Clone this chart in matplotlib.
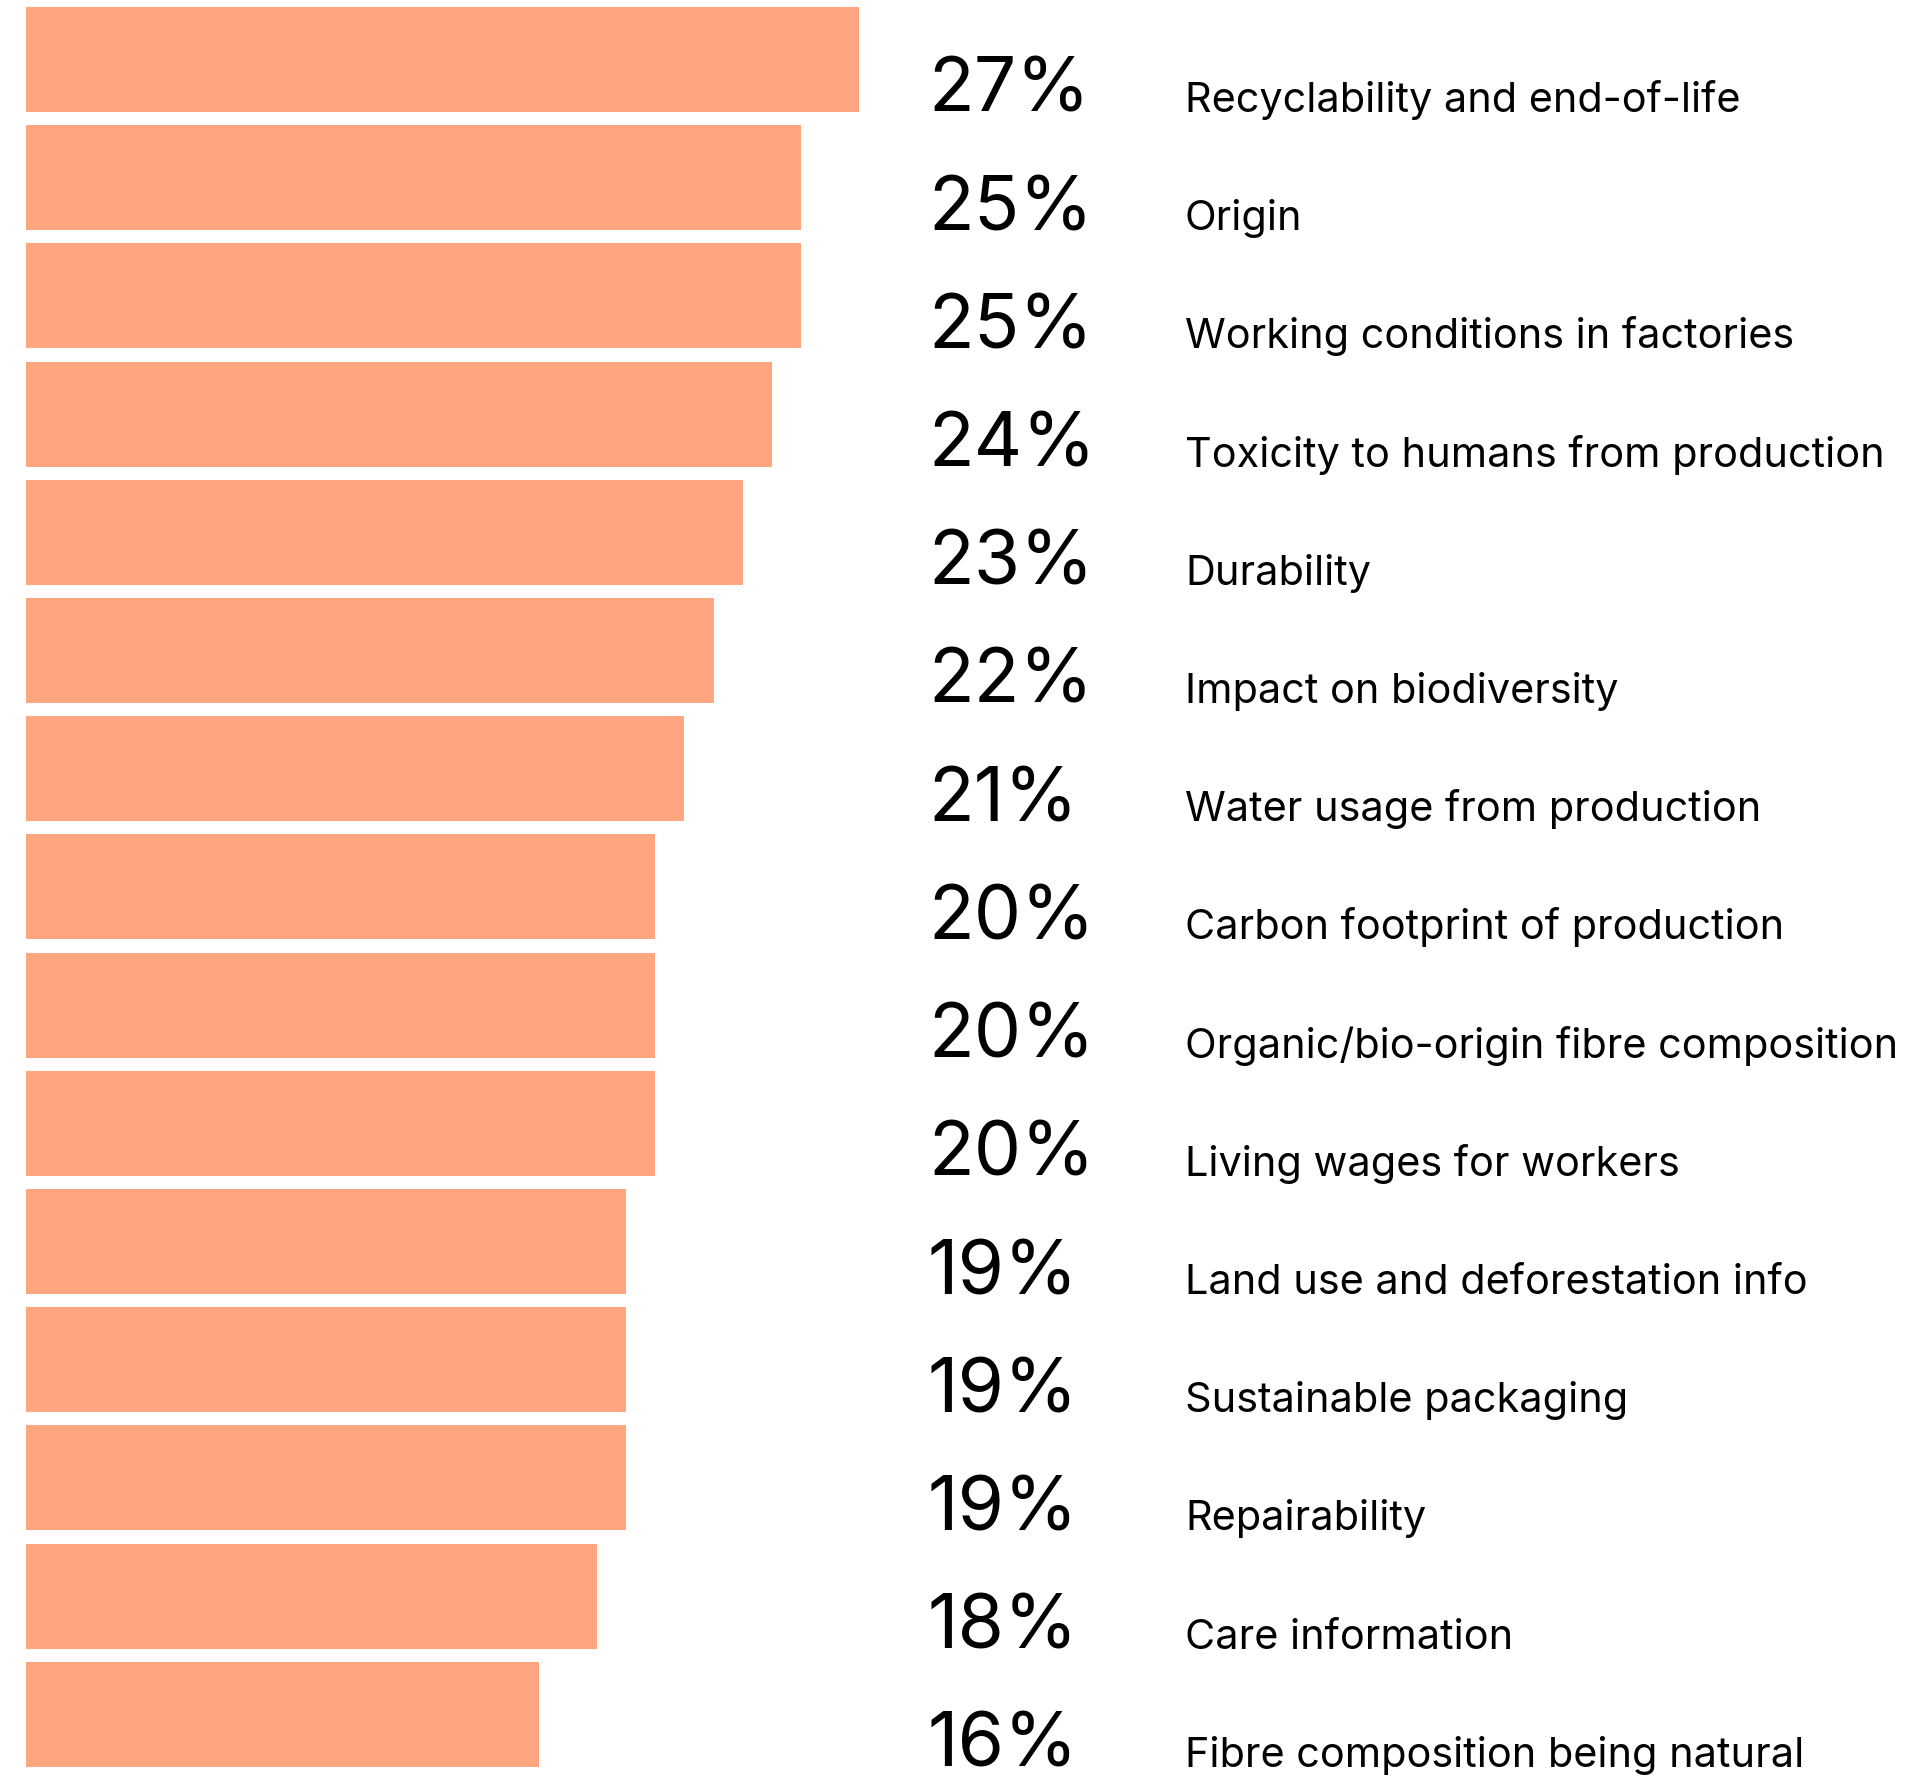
import matplotlib.pyplot as plt
import numpy as np

plt.rcParams['font.family'] = ['Inter', 'DejaVu Sans']

# share of respondents per attribute
attributes = ['Recyclability and end-of-life', 'Origin', 'Working conditions in factories',
              'Toxicity to humans from production', 'Durability', 'Impact on biodiversity',
              'Water usage from production', 'Carbon footprint of production',
              'Organic/bio-origin fibre composition', 'Living wages for workers',
              'Land use and deforestation info', 'Sustainable packaging', 'Repairability',
              'Care information', 'Fibre composition being natural']
shares = [27, 25, 25, 24, 23, 22, 21, 20, 20, 20, 19, 19, 19, 18, 16]

bar_color = '#FFA580'
base = -1.63  # bars start a little left of zero

fig = plt.figure(figsize=(19.18, 17.77), dpi=100)
ax = fig.add_axes([0, 0, 1, 1])

y = np.arange(len(shares))
h = 0.888
vals = np.array(shares, dtype=float)
ax.barh(y, vals - base, left=base, height=h, color=bar_color, linewidth=0)

trans = ax.get_yaxis_transform()
for i, (v, name) in enumerate(zip(shares, attributes)):
    yb = i + h / 2
    ax.text(0.4838, yb, f'{v}%', transform=trans, fontsize=54, va='baseline',
            ha='left', color='#000000')
    ax.text(0.6178, yb, name, transform=trans, fontsize=29.8, va='baseline',
            ha='left', color='#000000')

ax.set_xlim(-2.527, 63.4)
ax.set_ylim(14.53, -0.503)
ax.axis('off')

fig.savefig('out.png', dpi=100, facecolor='white')
